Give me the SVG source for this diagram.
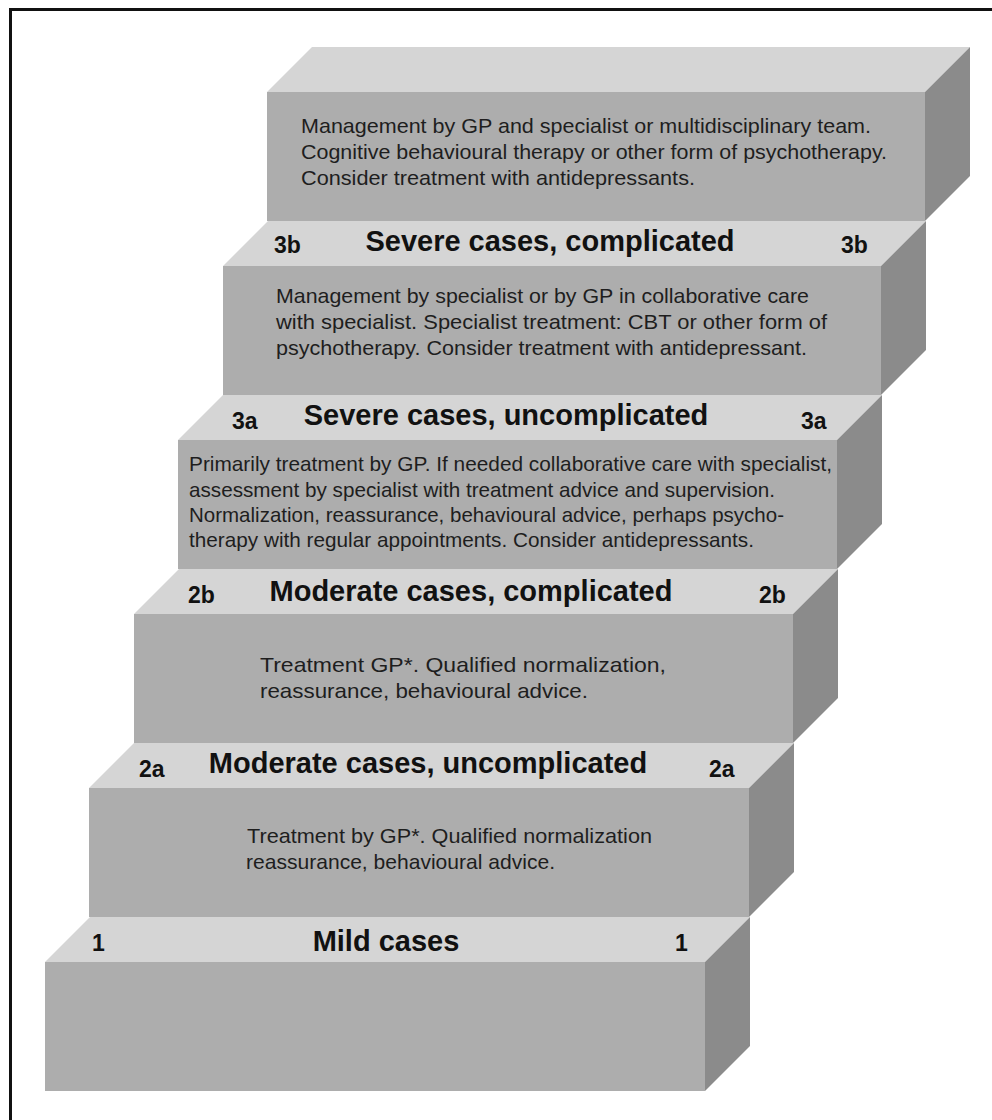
<svg xmlns="http://www.w3.org/2000/svg" width="992" height="1120" viewBox="0 0 992 1120">
<style>
.top{fill:#d5d5d5}
.front{fill:#adadad}
.side{fill:#8b8b8b}
.body{font-family:"Liberation Sans",Arial,sans-serif;font-size:21px;fill:#1e1e1e}
.title{font-family:"Liberation Sans",Arial,sans-serif;font-size:29px;font-weight:bold;fill:#111;text-anchor:middle}
.num{font-family:"Liberation Sans",Arial,sans-serif;font-size:23px;font-weight:bold;fill:#111}
</style>
<rect x="0" y="0" width="992" height="1120" fill="#fff"/>
<path d="M10.5,1120 V9.5 H992" fill="none" stroke="#111" stroke-width="3"/>

<g id="step-top">
<polygon class="top" points="267,92 925,92 970,47 312,47"/>
<rect class="front" x="267" y="92" width="658" height="129"/>
<polygon class="side" points="925,92 970,47 970,176 925,221"/>
<text class="body" x="301" y="133" textLength="570" lengthAdjust="spacingAndGlyphs">Management by GP and specialist or multidisciplinary team.</text>
<text class="body" x="301" y="159" textLength="586" lengthAdjust="spacingAndGlyphs">Cognitive behavioural therapy or other form of psychotherapy.</text>
<text class="body" x="301" y="185" textLength="394" lengthAdjust="spacingAndGlyphs">Consider treatment with antidepressants.</text>
</g>

<g id="step-3b">
<polygon class="top" points="223,266 881,266 926,221 268,221"/>
<rect class="front" x="223" y="266" width="658" height="129"/>
<polygon class="side" points="881,266 926,221 926,350 881,395"/>
<text class="num" x="274" y="253">3b</text>
<text class="title" x="550" y="251">Severe cases, complicated</text>
<text class="num" x="841" y="253">3b</text>
<text class="body" x="276" y="303" textLength="533" lengthAdjust="spacingAndGlyphs">Management by specialist or by GP in collaborative care</text>
<text class="body" x="276" y="329" textLength="551" lengthAdjust="spacingAndGlyphs">with specialist. Specialist treatment: CBT or other form of</text>
<text class="body" x="276" y="355" textLength="531" lengthAdjust="spacingAndGlyphs">psychotherapy. Consider treatment with antidepressant.</text>
</g>

<g id="step-3a">
<polygon class="top" points="178,440 837,440 882,395 223,395"/>
<rect class="front" x="178" y="440" width="659" height="129"/>
<polygon class="side" points="837,440 882,395 882,524 837,569"/>
<text class="num" x="232" y="429">3a</text>
<text class="title" x="506" y="425">Severe cases, uncomplicated</text>
<text class="num" x="801" y="429">3a</text>
<text class="body" x="189" y="471" textLength="643" lengthAdjust="spacingAndGlyphs">Primarily treatment by GP. If needed collaborative care with specialist,</text>
<text class="body" x="189" y="497" textLength="586" lengthAdjust="spacingAndGlyphs">assessment by specialist with treatment advice and supervision.</text>
<text class="body" x="189" y="522" textLength="595" lengthAdjust="spacingAndGlyphs">Normalization, reassurance, behavioural advice, perhaps psycho-</text>
<text class="body" x="189" y="547" textLength="565" lengthAdjust="spacingAndGlyphs">therapy with regular appointments. Consider antidepressants.</text>
</g>

<g id="step-2b">
<polygon class="top" points="134,614 793,614 838,569 179,569"/>
<rect class="front" x="134" y="614" width="659" height="129"/>
<polygon class="side" points="793,614 838,569 838,698 793,743"/>
<text class="num" x="188" y="603">2b</text>
<text class="title" x="471" y="601">Moderate cases, complicated</text>
<text class="num" x="759" y="603">2b</text>
<text class="body" x="260" y="672" textLength="406" lengthAdjust="spacingAndGlyphs">Treatment GP*. Qualified normalization,</text>
<text class="body" x="260" y="698" textLength="328" lengthAdjust="spacingAndGlyphs">reassurance, behavioural advice.</text>
</g>

<g id="step-2a">
<polygon class="top" points="89,788 749,788 794,743 134,743"/>
<rect class="front" x="89" y="788" width="660" height="129"/>
<polygon class="side" points="749,788 794,743 794,872 749,917"/>
<text class="num" x="139" y="777">2a</text>
<text class="title" x="428" y="773">Moderate cases, uncomplicated</text>
<text class="num" x="709" y="777">2a</text>
<text class="body" x="247" y="843" textLength="405" lengthAdjust="spacingAndGlyphs">Treatment by GP*. Qualified normalization</text>
<text class="body" x="246" y="869" textLength="309" lengthAdjust="spacingAndGlyphs">reassurance, behavioural advice.</text>
</g>

<g id="step-1">
<polygon class="top" points="45,962 705,962 750,917 90,917"/>
<rect class="front" x="45" y="962" width="660" height="129"/>
<polygon class="side" points="705,962 750,917 750,1046 705,1091"/>
<text class="num" x="92" y="951">1</text>
<text class="title" x="386" y="951">Mild cases</text>
<text class="num" x="675" y="951">1</text>
</g>

<g id="connectors"></g>
</svg>
